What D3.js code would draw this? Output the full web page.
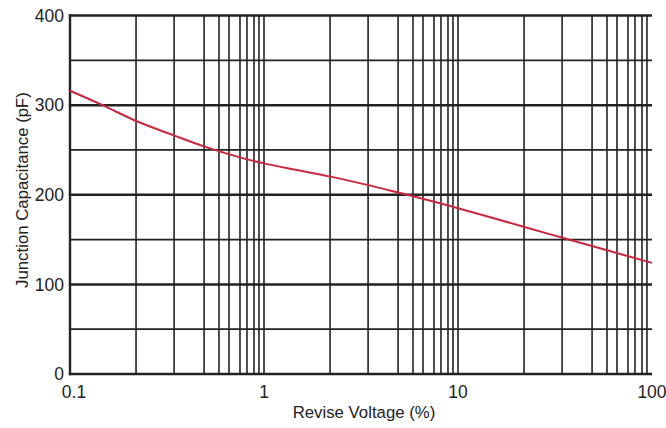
<!DOCTYPE html>
<html>
<head>
<meta charset="utf-8">
<script src="https://cdn.jsdelivr.net/npm/d3@7"></script>
<style>
  body { margin: 0; background: #fff; }
  text { font-family: "Liberation Sans", Arial, sans-serif; fill: #222; }
</style>
</head>
<body>
<svg id="chart"></svg>
<script>
// curve
var voltage = [0.1, 0.147, 0.221, 0.345, 0.49, 0.8, 1.0, 1.53, 2.17, 3.4, 4.8, 5.8, 10, 22, 34.6, 53.4, 100];
var capacitance = [316, 300, 282, 266, 254, 240, 235, 227, 220.5, 211, 203, 198.5, 185, 164, 152, 140.5, 124];

// grid of the original sheet (not a clean 2..9 log grid)
var decades = [0.1, 1, 10];
var gridMultipliers = [2.19, 3.44, 4.91, 5.86, 6.60, 7.52, 8.17, 8.88, 9.42];
var xTicks = [0.1, 1, 10, 100];
var xTickLabels = ["0.1", "1", "10", "100"];
var yMajor = [0, 100, 200, 300, 400];
var yMinor = [50, 150, 250, 350];

const width = 666, height = 428;
const padding = { top: 15.5, right: 14, bottom: 54, left: 70 };

const svg = d3.select("#chart").attr("width", width).attr("height", height);

var xScale = d3.scaleLog()
  .domain([0.1, 100])
  .range([padding.left, width - padding.right]);

var yScale = d3.scaleLinear()
  .domain([0, 400])
  .range([height - padding.bottom, padding.top]);

var vLines = [];
decades.forEach(d => {
  gridMultipliers.forEach(m => vLines.push(d * m));
});

// vertical grid
svg.append("g")
  .selectAll("line")
  .data(vLines.concat([1, 10]))
  .enter()
  .append("line")
  .attr("x1", d => xScale(d))
  .attr("x2", d => xScale(d))
  .attr("y1", yScale(0))
  .attr("y2", yScale(400))
  .attr("stroke", "#222")
  .attr("stroke-width", 1.6);

// horizontal grid
svg.append("g")
  .selectAll("line")
  .data(yMinor)
  .enter()
  .append("line")
  .attr("x1", xScale(0.1))
  .attr("x2", xScale(100))
  .attr("y1", d => yScale(d))
  .attr("y2", d => yScale(d))
  .attr("stroke", "#222")
  .attr("stroke-width", 1.7);

svg.append("g")
  .selectAll("line")
  .data(yMajor)
  .enter()
  .append("line")
  .attr("x1", xScale(0.1) - 1.2)
  .attr("x2", xScale(100))
  .attr("y1", d => yScale(d))
  .attr("y2", d => yScale(d))
  .attr("stroke", "#222")
  .attr("stroke-width", 2.5);

// left axis line
svg.append("line")
  .attr("x1", xScale(0.1))
  .attr("x2", xScale(0.1))
  .attr("y1", yScale(0) + 1.2)
  .attr("y2", yScale(400) - 1.2)
  .attr("stroke", "#222")
  .attr("stroke-width", 2.4);

// curve
var line = d3.line()
  .x(d => xScale(d[0]))
  .y(d => yScale(d[1]))
  .curve(d3.curveCatmullRom.alpha(0.5));

svg.append("path")
  .datum(voltage.map((v, i) => [v, capacitance[i]]))
  .attr("d", line)
  .attr("fill", "none")
  .attr("stroke", "#c9283e")
  .attr("stroke-width", 2);

// y tick labels
svg.append("g")
  .selectAll("text")
  .data(yMajor)
  .enter()
  .append("text")
  .attr("x", padding.left - 6)
  .attr("y", d => yScale(d))
  .attr("dy", "0.35em")
  .attr("text-anchor", "end")
  .attr("font-size", "17.5px")
  .text(d => d);

// x tick labels
svg.append("g")
  .selectAll("text")
  .data(xTicks)
  .enter()
  .append("text")
  .attr("x", (d, i) => xScale(d) + (i === 0 ? 4 : 0))
  .attr("y", yScale(0) + 24)
  .attr("text-anchor", "middle")
  .attr("font-size", "17.5px")
  .text((d, i) => xTickLabels[i]);

// axis titles
svg.append("text")
  .attr("x", 364)
  .attr("y", 418)
  .attr("text-anchor", "middle")
  .attr("font-size", "16.8px")
  .text("Revise Voltage (%)");

svg.append("text")
  .attr("transform", "rotate(-90)")
  .attr("x", -190)
  .attr("y", 28)
  .attr("text-anchor", "middle")
  .attr("font-size", "16.8px")
  .text("Junction Capacitance (pF)");
</script>
</body>
</html>
